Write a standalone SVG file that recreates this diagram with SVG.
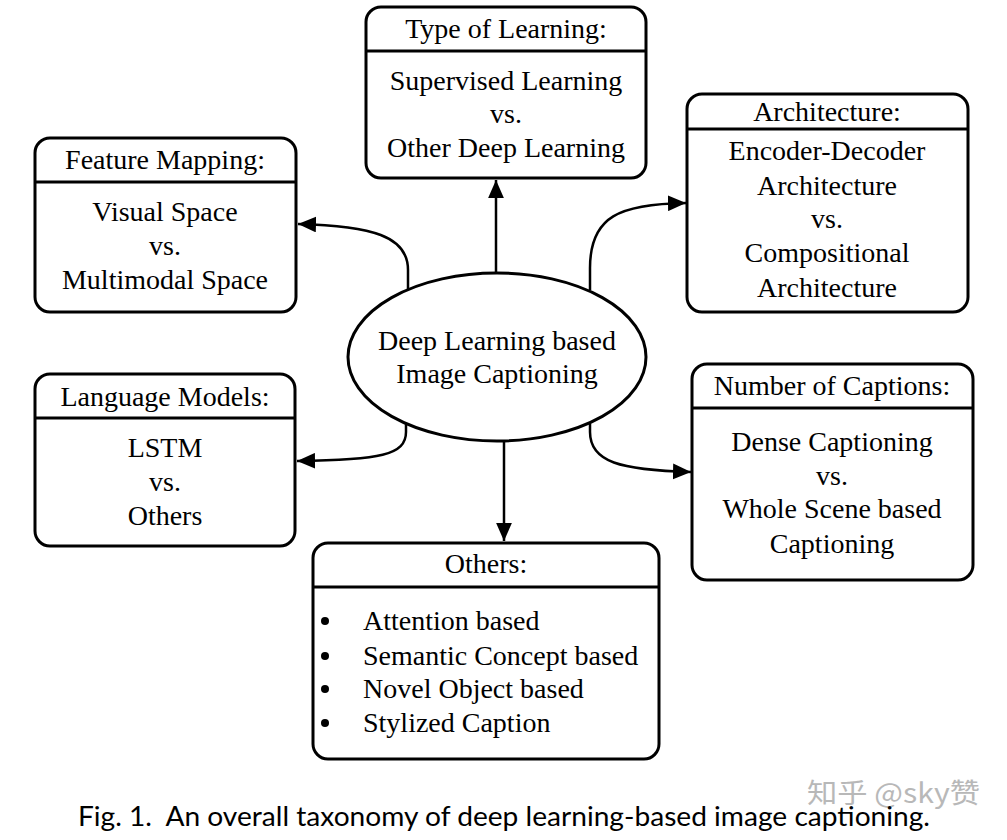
<svg xmlns="http://www.w3.org/2000/svg" width="1007" height="840" viewBox="0 0 1007 840">
<style>
.box{fill:#fff;stroke:#000;stroke-width:3}
.div{stroke:#000;stroke-width:3}
.t{font-family:"Liberation Serif","Times New Roman",serif;font-size:28px;fill:#000;text-anchor:middle}
.tl{font-family:"Liberation Serif","Times New Roman",serif;font-size:28px;fill:#000}
.con{fill:none;stroke:#000;stroke-width:2.5}
.cap{font-family:Lato,"Open Sans",sans-serif;font-size:26px;fill:#000}
.wm{font-family:"Noto Sans CJK SC","Noto Sans",sans-serif;font-size:27px;fill:#b8b8b8}
</style>
<defs>
<marker id="arr" markerUnits="userSpaceOnUse" markerWidth="18" markerHeight="16" viewBox="0 0 16 14" refX="16" refY="7" orient="auto">
<path d="M0,0 L16,7 L0,14 Z" fill="#000"/>
</marker>
</defs>
<rect width="1007" height="840" fill="#fff"/>

<g id="connectors">
<path class="con" d="M496,273 L496,180" marker-end="url(#arr)"/>
<path class="con" d="M504,442 L504,541" marker-end="url(#arr)"/>
<path class="con" d="M408,289 L408,270 C408,236 372,226 298,224" marker-end="url(#arr)"/>
<path class="con" d="M590,290 L590,268 C590,216 620,204 686,203" marker-end="url(#arr)"/>
<path class="con" d="M406,424 L406,432 C406,455 380,460 297,461" marker-end="url(#arr)"/>
<path class="con" d="M590,424 L590,432 C590,462 620,470 691,472" marker-end="url(#arr)"/>
</g>

<g id="center">
<ellipse cx="497" cy="357" rx="149" ry="84" fill="#fff" stroke="#000" stroke-width="3"/>
<text class="t" x="497" y="350">Deep Learning based</text>
<text class="t" x="497" y="383">Image Captioning</text>
</g>

<g id="type-of-learning">
<rect class="box" x="366" y="7" width="280" height="171" rx="15"/>
<line class="div" x1="366" y1="51" x2="646" y2="51"/>
<text class="t" x="506" y="38">Type of Learning:</text>
<text class="t" x="506" y="90">Supervised Learning</text>
<text class="t" x="506" y="123">vs.</text>
<text class="t" x="506" y="157">Other Deep Learning</text>
</g>

<g id="feature-mapping">
<rect class="box" x="35" y="138" width="261" height="174" rx="15"/>
<line class="div" x1="35" y1="182" x2="296" y2="182"/>
<text class="t" x="165" y="169">Feature Mapping:</text>
<text class="t" x="165" y="221">Visual Space</text>
<text class="t" x="165" y="255">vs.</text>
<text class="t" x="165" y="289">Multimodal Space</text>
</g>

<g id="architecture">
<rect class="box" x="687" y="94" width="281" height="218" rx="15"/>
<line class="div" x1="687" y1="129" x2="968" y2="129"/>
<text class="t" x="827" y="121">Architecture:</text>
<text class="t" x="827" y="160">Encoder-Decoder</text>
<text class="t" x="827" y="195">Architecture</text>
<text class="t" x="827" y="228">vs.</text>
<text class="t" x="827" y="262">Compositional</text>
<text class="t" x="827" y="297">Architecture</text>
</g>

<g id="language-models">
<rect class="box" x="35" y="374" width="260" height="172" rx="15"/>
<line class="div" x1="35" y1="418" x2="295" y2="418"/>
<text class="t" x="165" y="406">Language Models:</text>
<text class="t" x="165" y="457">LSTM</text>
<text class="t" x="165" y="491">vs.</text>
<text class="t" x="165" y="525">Others</text>
</g>

<g id="number-of-captions">
<rect class="box" x="692" y="364" width="281" height="216" rx="15"/>
<line class="div" x1="692" y1="408" x2="973" y2="408"/>
<text class="t" x="832" y="395">Number of Captions:</text>
<text class="t" x="832" y="451">Dense Captioning</text>
<text class="t" x="832" y="485">vs.</text>
<text class="t" x="832" y="518">Whole Scene based</text>
<text class="t" x="832" y="553">Captioning</text>
</g>

<g id="others">
<rect class="box" x="313" y="543" width="346" height="216" rx="15"/>
<line class="div" x1="313" y1="587" x2="659" y2="587"/>
<text class="t" x="486" y="573">Others:</text>
<circle cx="325" cy="621" r="4"/>
<circle cx="325" cy="656" r="4"/>
<circle cx="325" cy="689" r="4"/>
<circle cx="325" cy="723" r="4"/>
<text class="tl" x="363" y="630">Attention based</text>
<text class="tl" x="363" y="665">Semantic Concept based</text>
<text class="tl" x="363" y="698">Novel Object based</text>
<text class="tl" x="363" y="732">Stylized Caption</text>
</g>

<g id="caption">
<text class="wm" x="807" y="803" textLength="173" lengthAdjust="spacingAndGlyphs">知乎 @sky赞</text>
<text class="cap" x="78" y="826" xml:space="preserve" textLength="852" lengthAdjust="spacingAndGlyphs">Fig. 1.  An overall taxonomy of deep learning-based image captioning.</text>
</g>
</svg>
